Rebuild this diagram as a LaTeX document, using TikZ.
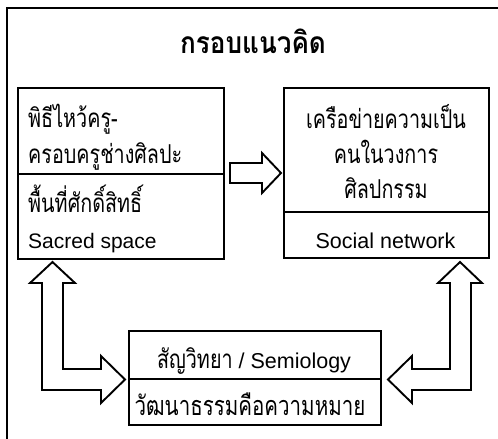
\documentclass[tikz,border=0pt]{standalone}
\usepackage{fontspec}
\setmainfont{Liberation Sans}
\newfontfamily\thai[Script=Thai,FakeStretch=0.76]{Loma}
\newfontfamily\thaititle[Script=Thai,FakeStretch=0.87]{Loma}
\tikzset{
  box/.style={draw, line width=1.9pt, inner sep=0pt, anchor=north west},
  blockarrow/.style={draw, line width=1.9pt, line join=miter, fill=white},
  thaisize/.style={font=\thai\fontsize{26}{30}\selectfont},
  lt/.style={anchor=base west, inner sep=0pt, thaisize},
  ct/.style={anchor=base, inner sep=0pt, thaisize},
  le/.style={anchor=base west, inner sep=0pt, font=\fontsize{21}{25}\selectfont},
  ce/.style={anchor=base, inner sep=0pt, font=\fontsize{21.5}{25}\selectfont},
}
\begin{document}
\begin{tikzpicture}[x=1pt,y=-1pt]
\useasboundingbox (0,0) rectangle (498,439);
% outer frame
\draw[line width=2pt] (7,441) -- (7,8) -- (500,8);
\node[anchor=base, inner sep=0pt, font=\thaititle\bfseries\fontsize{30}{34}\selectfont] (title) at (253,53) {กรอบแนวคิด};
% left box
\node[box, minimum width=206pt, minimum height=86pt] (ltop) at (17,87) {};
\node[box, minimum width=206pt, minimum height=85pt] (lbot) at (17,173) {};
\node[lt] (l1) at (28,127) {พิธีไหว้ครู-};
\node[lt] (l2) at (28,163) {ครอบครูช่างศิลปะ};
\node[lt] (l3) at (28,212) {พื้นที่ศักดิ์สิทธิ์};
\node[le] (l4) at (28,248) {Sacred space};
% right box
\node[box, minimum width=205pt, minimum height=124pt] (rtop) at (283,87) {};
\node[box, minimum width=205pt, minimum height=46pt] (rbot) at (283,211) {};
\node[ct] (r1) at (386,128) {เครือข่ายความเป็น};
\node[ct] (r2) at (386,163) {คนในวงการ};
\node[ct] (r3) at (386,198) {ศิลปกรรม};
\node[ce] (r4) at (385.5,248) {Social network};
% bottom box
\node[box, minimum width=252pt, minimum height=48pt] (btop) at (128,330) {};
\node[box, minimum width=252pt, minimum height=46pt] (bbot) at (128,378) {};
\node[ce] (b1) at (254,368) {{\thai\fontsize{26}{30}\selectfont สัญวิทยา} / Semiology};
\node[ct, font=\thai\fontsize{27}{30}\selectfont] (b2) at (250,415) {วัฒนาธรรมคือความหมาย};
% horizontal block arrow
\draw[blockarrow] (230,163) -- (262,163) -- (262,153) -- (281,173) -- (262,193) -- (262,183) -- (230,183) -- cycle;
% left L arrow
\draw[blockarrow] (52.5,262) -- (75,283) -- (63,283) -- (63,369) -- (101,369) -- (101,356) -- (125,379.5) -- (101,403) -- (101,390) -- (42,390) -- (42,283) -- (30,283) -- cycle;
% right L arrow
\draw[blockarrow] (460,262) -- (482,283) -- (471,283) -- (471,390) -- (412,390) -- (412,403) -- (388,379.5) -- (412,356) -- (412,369) -- (450,369) -- (450,283) -- (438,283) -- cycle;
\end{tikzpicture}
\end{document}
